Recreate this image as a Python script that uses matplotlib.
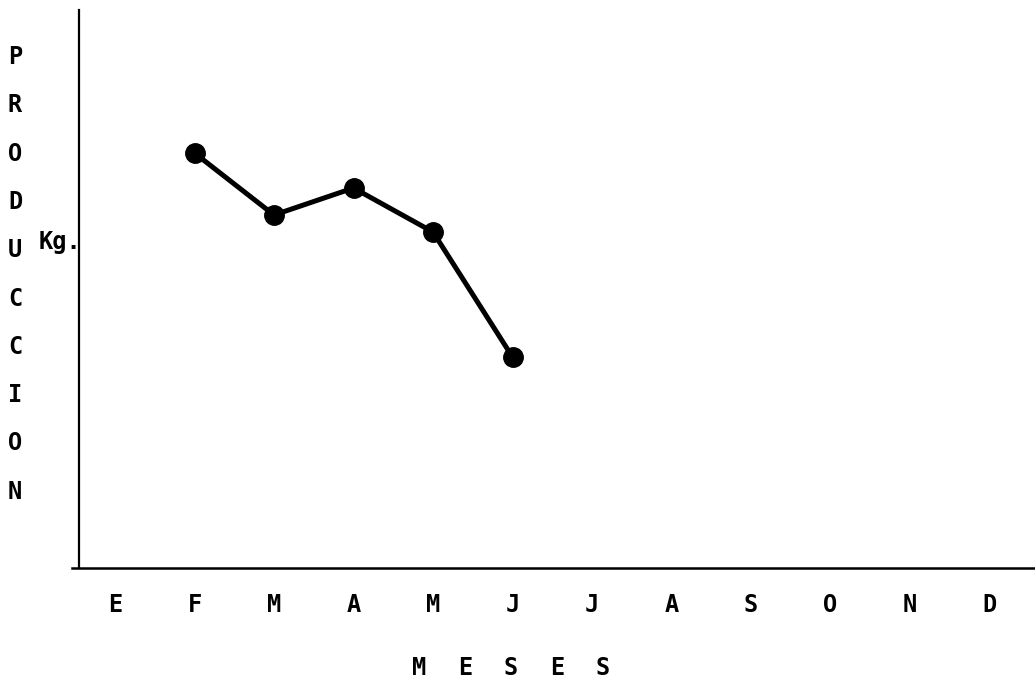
import matplotlib.pyplot as plt

# ── Data ─────────────────────────────────────────────────────────────────────
months = ["E", "F", "M", "A", "M", "J", "J", "A", "S", "O", "N", "D"]
obs_month = [1, 2, 3, 4, 5]                 # F .. J
production = [415, 353, 380, 336, 211]      # Kg. (no scale on original)
ylabel_letters = list("PRODUCCION")
xlabel_letters = list("MESES")

W, H, DPI = 1035, 679, 100
FONT = dict(family="DejaVu Sans Mono", fontweight="bold", color="black")
FS = 17

fig = plt.figure(figsize=(W / DPI, H / DPI), dpi=DPI)

# axes box in pixels: left 72, right 1035, bottom 568, top 10
ax = fig.add_axes([72 / W, (H - 568) / H, (1035 - 72) / W, (568 - 10) / H])

ax.plot(obs_month, production, color="black", lw=3.6,
        marker="o", markersize=14, solid_capstyle="round")

# month index 0 sits at x=115px, 79.5px per month
px_per = 79.5
ax.set_xlim((72 - 115) / px_per, (1035 - 115) / px_per)
ax.set_ylim(0, 558)

ax.set_xticks(range(len(months)))
ax.set_xticklabels(months, fontsize=FS, **FONT)
ax.tick_params(axis="x", length=0, pad=18)
ax.set_yticks([])

for s in ["top", "right"]:
    ax.spines[s].set_visible(False)
ax.spines["left"].set_position(("axes", 7 / 963))
ax.spines["left"].set_linewidth(1.6)
ax.spines["bottom"].set_linewidth(1.8)

# vertical y label, one letter per line
for i, ch in enumerate(ylabel_letters):
    y_px = 57 + i * 48.3
    fig.text(15 / W, 1 - y_px / H, ch, fontsize=FS, ha="center", va="center", **FONT)

fig.text(60 / W, 1 - 242 / H, "Kg.", fontsize=FS, ha="center", va="center", **FONT)

# spaced-out x label
for i, ch in enumerate(xlabel_letters):
    x_px = 419 + i * 46
    fig.text(x_px / W, 1 - 668 / H, ch, fontsize=FS, ha="center", va="center", **FONT)

fig.savefig("out.png", dpi=DPI)
